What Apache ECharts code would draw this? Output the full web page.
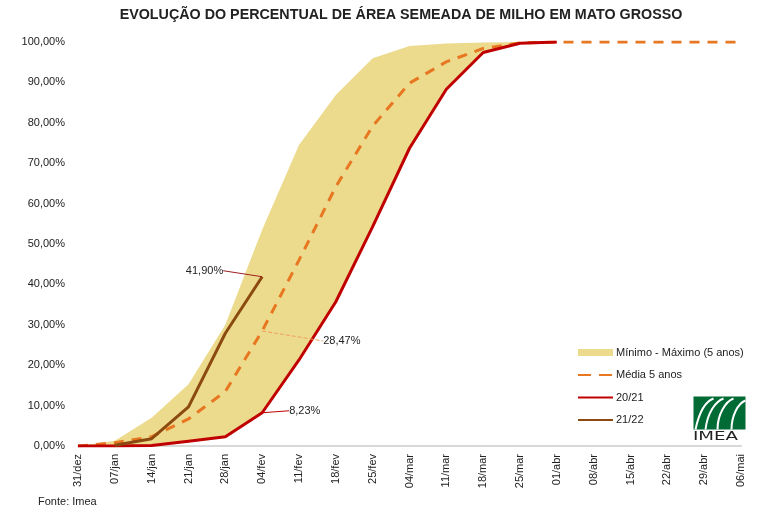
<!DOCTYPE html>
<html><head><meta charset="utf-8">
<script src="https://cdn.jsdelivr.net/npm/echarts@6/dist/echarts.min.js"></script>
<style>html,body{margin:0;padding:0;background:#fff}#c{width:774px;height:516px}</style>
</head><body><div id="c"></div>
<script>
const categories = ['31/dez','07/jan','14/jan','21/jan','28/jan','04/fev','11/fev','18/fev','25/fev','04/mar','11/mar','18/mar','25/mar','01/abr','08/abr','15/abr','22/abr','29/abr','06/mai'];
const maxValues = [0,1.3,7,15.3,30,53.5,74.5,86.9,96,99,99.6,99.9,100,100,null,null,null,null,null];
const minValues = [0,0,0.1,1.2,2.3,8.23,21.3,35.7,54.3,73.7,88.3,97.4,99.7,100,null,null,null,null,null];
const avgValues = [0,0.8,2.3,6.7,13.5,28.47,46,64.2,79.2,89.8,95.1,98.4,99.8,100,100,100,100,100,100];
const s2021 = [0,0,0.1,1.2,2.3,8.23,21.3,35.7,54.3,73.7,88.3,97.4,99.7,100,null,null,null,null,null];
const s2122 = [null,0.2,1.8,9.7,27.9,41.9,null,null,null,null,null,null,null,null,null,null,null,null,null];
const labelIndex = 5;

const FONT = '"Liberation Sans", Arial, sans-serif';
const pct = v => v.toFixed(2).replace('.', ',') + '%';
const bandDiff = maxValues.map((v,i)=> v==null||minValues[i]==null ? null : v - minValues[i]);

function withLabel(arr, cfg){
  return arr.map((v,i)=> i===labelIndex ? {value:v, symbol:'circle', symbolSize:0.01,
    label:Object.assign({show:true, formatter:p=>pct(p.value), color:'#222', fontSize:11, fontFamily:FONT}, cfg.label),
    labelLine:cfg.labelLine} : v);
}

const chart = echarts.init(document.getElementById('c'));
chart.setOption({
  animation:false,
  textStyle:{fontFamily:FONT},
  title:{text:'EVOLUÇÃO DO PERCENTUAL DE ÁREA SEMEADA DE MILHO EM MATO GROSSO', left:396, top:3, textAlign:'center',
    textStyle:{fontSize:14.3, fontWeight:'bold', color:'#222', fontFamily:FONT}},
  grid:{left:78, right:33, top:42, bottom:70},
  legend:{orient:'vertical', left:572, top:342, itemWidth:35, itemHeight:7, itemGap:11.5,
    textStyle:{fontSize:11, color:'#222', fontFamily:FONT, padding:[0,0,0,-2]},
    data:[{name:'Mínimo - Máximo (5 anos)', icon:'rect'},
          {name:'Média 5 anos', itemStyle:{opacity:0}, lineStyle:{type:[13,8]}},
          {name:'20/21', itemStyle:{opacity:0}},
          {name:'21/22', itemStyle:{opacity:0}}]},
  xAxis:{type:'category', data:categories, boundaryGap:false,
    axisLine:{lineStyle:{color:'#D9D9D9', width:2}}, axisTick:{show:false},
    axisLabel:{rotate:90, fontSize:11, color:'#222', margin:8, interval:0}},
  yAxis:{type:'value', min:0, max:100, interval:10, splitLine:{show:false},
    axisLine:{show:false}, axisTick:{show:false},
    axisLabel:{formatter:v=>pct(v), fontSize:11, color:'#222', margin:13}},
  series:[
    {name:'band-min', type:'line', stack:'band', data:minValues, symbol:'none', lineStyle:{opacity:0}, silent:true, legendHoverLink:false},
    {name:'Mínimo - Máximo (5 anos)', type:'line', stack:'band', data:bandDiff, symbol:'none', lineStyle:{opacity:0, width:0},
      itemStyle:{color:'#ECDB8D'}, areaStyle:{color:'#ECDB8D', opacity:1}},
    {name:'Média 5 anos', type:'line', symbol:'none', lineStyle:{color:'#E87722', width:3, type:[10,8]}, itemStyle:{color:'#E87722'},
      data:withLabel(avgValues,{label:{position:'right'}, labelLine:{show:true, lineStyle:{color:'#F0A060', width:1, type:'dashed'}}}),
      labelLayout:{dx:56, dy:10}},
    {name:'20/21', type:'line', symbol:'none', lineStyle:{color:'#C00000', width:3}, itemStyle:{color:'#C00000'},
      data:withLabel(s2021,{label:{position:'right'}, labelLine:{show:true, lineStyle:{color:'#C00000', width:1}}}),
      labelLayout:{dx:22, dy:-2}},
    {name:'21/22', type:'line', symbol:'none', lineStyle:{color:'#8B4A0F', width:3}, itemStyle:{color:'#8B4A0F'},
      data:withLabel(s2122,{label:{position:'left'}, labelLine:{show:true, lineStyle:{color:'#A02020', width:1}}}),
      labelLayout:{dx:-34, dy:-6}}
  ],
  graphic:[
    {type:'text', left:38, top:496, style:{text:'Fonte: Imea', fontSize:11, fill:'#222', fontFamily:FONT}},
    {type:'group', left:693, top:396, children:[
      {type:'rect', shape:{x:0,y:0,width:52,height:33}, style:{fill:'#006B35'}},
      {type:'bezierCurve', shape:{x1:2,y1:33,x2:20,y2:2,cpx1:6,cpy1:14,cpx2:12,cpy2:5}, style:{stroke:'#fff', lineWidth:2, fill:null}},
      {type:'bezierCurve', shape:{x1:12,y1:33,x2:30,y2:2,cpx1:14,cpy1:16,cpx2:22,cpy2:5}, style:{stroke:'#fff', lineWidth:2, fill:null}},
      {type:'bezierCurve', shape:{x1:24,y1:33,x2:40,y2:2,cpx1:24,cpy1:18,cpx2:32,cpy2:5}, style:{stroke:'#fff', lineWidth:2, fill:null}},
      {type:'bezierCurve', shape:{x1:38,y1:33,x2:52,y2:4,cpx1:38,cpy1:20,cpx2:44,cpy2:7}, style:{stroke:'#fff', lineWidth:2, fill:null}}
    ]},
    {type:'text', left:693, top:430, scaleX:1.4, style:{text:'IMEA', fontSize:13, fill:'#222', fontFamily:'"DejaVu Sans", sans-serif'}}
  ]
});
</script></body></html>
